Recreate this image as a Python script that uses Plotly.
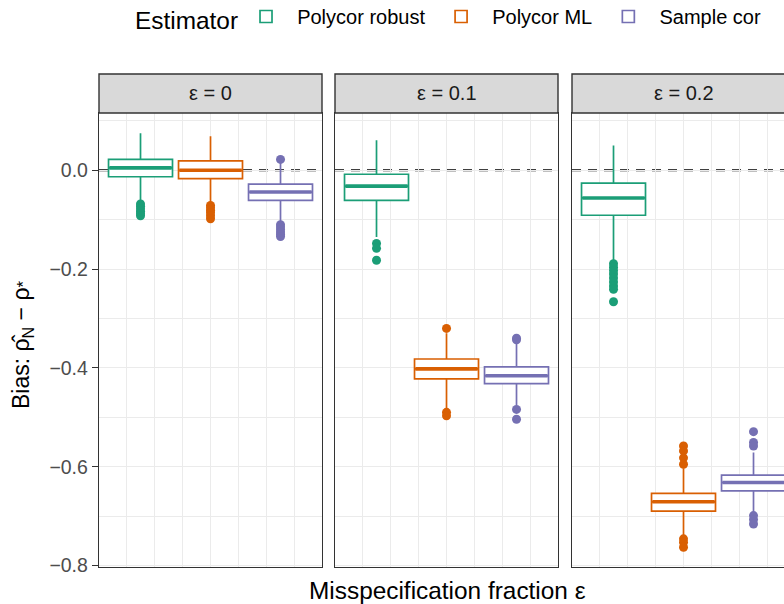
import plotly.graph_objects as go

# ---------------- data ----------------
panels = ["ε = 0", "ε = 0.1", "ε = 0.2"]
estimators = ["Polycor robust", "Polycor ML", "Sample cor"]
colors = ["#1B9E77", "#D95F02", "#7570B3"]

# rows: estimator (robust, ML, sample); columns: panel (eps = 0, 0.1, 0.2)
lower_whisker = [[-0.064, -0.135, -0.182], [-0.065, -0.481, -0.740], [-0.103, -0.476, -0.692]]
q1 = [[-0.013, -0.061, -0.091], [-0.017, -0.422, -0.690], [-0.061, -0.432, -0.649]]
median = [[0.005, -0.032, -0.056], [0.000, -0.402, -0.671], [-0.044, -0.416, -0.632]]
q3 = [[0.022, -0.008, -0.026], [0.019, -0.382, -0.654], [-0.028, -0.398, -0.617]]
upper_whisker = [[0.075, 0.061, 0.050], [0.069, -0.330, -0.603], [0.016, -0.350, -0.571]]

outliers_robust = [
    [-0.068, -0.073, -0.078, -0.083, -0.088, -0.092],
    [-0.148, -0.158, -0.182],
    [-0.189, -0.196, -0.203, -0.210, -0.218, -0.226, -0.234, -0.241, -0.266],
]
outliers_ml = [
    [-0.071, -0.076, -0.081, -0.086, -0.092, -0.098],
    [-0.320, -0.490, -0.497],
    [-0.558, -0.568, -0.582, -0.595, -0.746, -0.753, -0.763],
]
outliers_sample = [
    [0.022, -0.110, -0.115, -0.120, -0.125, -0.130, -0.134],
    [-0.340, -0.343, -0.484, -0.504],
    [-0.529, -0.551, -0.558, -0.699, -0.707, -0.716],
]
outliers = [outliers_robust, outliers_ml, outliers_sample]

y_ticks = [0.0, -0.2, -0.4, -0.6, -0.8]
y_ticktext = ["0.0", "\u22120.2", "\u22120.4", "\u22120.6", "\u22120.8"]
y_minor = [0.1, -0.1, -0.3, -0.5, -0.7]

# ---------------- layout geometry ----------------
W, H = 784, 604
ML, MT = 99, 113
PLOT_BOTTOM = 567
MR, MB = 0, H - PLOT_BOTTOM
PW = W - ML - MR
PH = H - MT - MB
panel_px = [(99, 322), (335, 558), (572, W)]
full_panel_w = 223
unit_px = 70.0
x0_val = 0.407
box_w = 0.914
positions = [1, 2, 3]

FONT = "Liberation Sans, Arial, Helvetica, sans-serif"
SMALL = 19.5
LEG = 20
LARGE = 24.4
NB = "\u00a0"
legend_names = [NB * 2 + estimators[0] + NB * 2, NB * 2 + estimators[1] + NB * 2, NB * 2 + estimators[2]]

fig = go.Figure()

for p in range(3):
    xa = "x" if p == 0 else f"x{p+1}"
    ya = "y" if p == 0 else f"y{p+1}"
    for e in range(3):
        c = colors[e]
        pos = positions[e]
        fig.add_trace(go.Box(
            x=[pos], q1=[q1[e][p]], median=[median[e][p]], q3=[q3[e][p]],
            lowerfence=[lower_whisker[e][p]], upperfence=[upper_whisker[e][p]],
            width=box_w, fillcolor="white", line=dict(color=c, width=1.7),
            whiskerwidth=0, boxpoints=False,
            name=legend_names[e], legendgroup=estimators[e], showlegend=(p == 0),
            xaxis=xa, yaxis=ya, hoverinfo="skip",
        ))
        fig.add_trace(go.Scatter(
            x=[pos - box_w / 2 + 0.012, pos + box_w / 2 - 0.012],
            y=[median[e][p], median[e][p]], mode="lines",
            line=dict(color=c, width=3.6), showlegend=False,
            legendgroup=estimators[e], xaxis=xa, yaxis=ya, hoverinfo="skip",
        ))
        fig.add_trace(go.Scatter(
            x=[pos] * len(outliers[e][p]), y=outliers[e][p], mode="markers",
            marker=dict(color=c, size=9), showlegend=False,
            legendgroup=estimators[e], xaxis=xa, yaxis=ya, hoverinfo="skip",
        ))

layout = dict(
    width=W, height=H,
    margin=dict(l=ML, r=MR, t=MT, b=MB, pad=0, autoexpand=False),
    paper_bgcolor="white", plot_bgcolor="white",
    font=dict(family=FONT, size=SMALL, color="black"),
    boxmode="overlay",
    showlegend=True,
    legend=dict(
        orientation="h", x=(133 - ML) / PW, xanchor="left",
        yref="paper", y=1 + (MT - 18) / PH, yanchor="middle",
        title=dict(text="Estimator", font=dict(size=LARGE, color="black")),
        font=dict(size=LEG, color="black"), itemwidth=30,
        bgcolor="rgba(0,0,0,0)",
    ),
)

shapes = []
annotations = []
for p in range(3):
    sfx = "" if p == 0 else str(p + 1)
    a, b = panel_px[p]
    d0 = (a - ML) / PW
    d1 = min((b - ML) / PW, 1.0)
    vis_w = b - a
    layout["xaxis" + sfx] = dict(
        domain=[d0, d1], range=[x0_val, x0_val + vis_w / unit_px],
        showticklabels=False, ticks="", zeroline=False,
        tickvals=[1.2, 2.0, 2.8], showgrid=True, gridcolor="#EBEBEB", gridwidth=1.3,
        minor=dict(tickvals=[0.8, 1.6, 2.4, 3.2], showgrid=True, gridcolor="#EBEBEB", gridwidth=0.7),
        showline=True, mirror=True, linecolor="#333333", linewidth=1.4,
        anchor="y" + sfx, fixedrange=True,
    )
    layout["yaxis" + sfx] = dict(
        range=[-0.803, 0.116], anchor="x" + sfx,
        tickvals=y_ticks, ticktext=y_ticktext,
        showticklabels=(p == 0), ticks="outside" if p == 0 else "",
        ticklen=6, tickwidth=1.3, tickcolor="#333333",
        tickfont=dict(size=SMALL, color="#4D4D4D"),
        showgrid=True, gridcolor="#EBEBEB", gridwidth=1.3, zeroline=False,
        minor=dict(tickvals=y_minor, showgrid=True, gridcolor="#EBEBEB", gridwidth=0.7),
        showline=True, mirror=(p < 2), linecolor="#333333", linewidth=1.4,
        fixedrange=True,
    )
    if p > 0:
        layout["yaxis" + sfx]["matches"] = "y"
    # strip
    shapes.append(dict(
        type="rect", xref=f"x{sfx} domain", yref="paper",
        x0=0, x1=1 if p < 2 else 1.2,
        y0=1.0, y1=1 + (MT - 74) / PH,
        fillcolor="#D9D9D9", line=dict(color="#333333", width=1.4), layer="above",
    ))
    annotations.append(dict(
        text=panels[p], xref=f"x{sfx} domain", yref="paper",
        x=(full_panel_w / 2) / vis_w, y=1 + (MT - 93) / PH,
        xanchor="center", yanchor="middle", showarrow=False,
        font=dict(size=LEG, color="#1A1A1A"),
    ))
    # dashed reference line at zero
    shapes.append(dict(
        type="line", xref=f"x{sfx} domain", yref="y" + sfx,
        x0=0, x1=1, y0=0, y1=0,
        line=dict(color="black", width=2.0, dash="9px,7px"), layer="below",
    ))

annotations.append(dict(
    text="Misspecification fraction ε", xref="paper", yref="paper",
    x=(447.5 - ML) / PW, y=-(590 - PLOT_BOTTOM) / PH,
    xanchor="center", yanchor="middle", showarrow=False,
    font=dict(size=LARGE, color="black"),
))
annotations.append(dict(
    text="Bias: \u03c1\u0302<sub>N</sub> \u2212 \u03c1<span style='font-size:17px'>*</span>",
    xref="paper", yref="paper",
    x=(22 - ML) / PW, y=1 - (345 - MT) / PH, textangle=-90,
    xanchor="center", yanchor="middle", showarrow=False,
    font=dict(size=23, color="black"),
))

layout["shapes"] = shapes
layout["annotations"] = annotations
fig.update_layout(**layout)

fig.write_html(
    "out.html",
    config={"displayModeBar": False},
    post_script="document.body.style.margin='0';document.body.style.overflow='hidden';",
)
